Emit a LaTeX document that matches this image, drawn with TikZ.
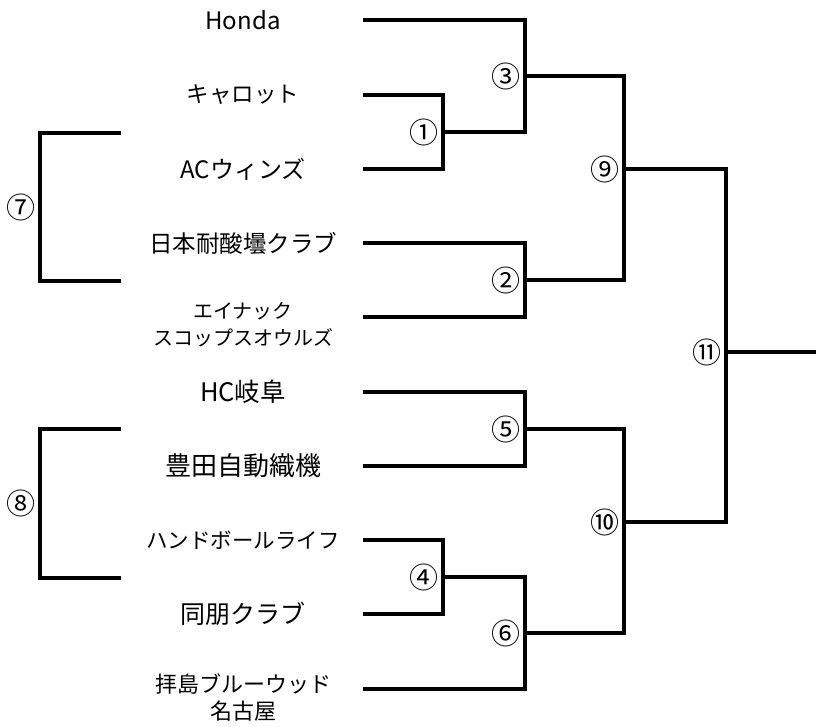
\documentclass[tikz,border=0pt]{standalone}
\usepackage{fontspec}
\setmainfont{Noto Sans CJK JP}
\begin{document}
\begin{tikzpicture}[x=1pt,y=-1pt,
    bline/.style={line width=3.4pt},
    team/.style={font=\fontsize{#1}{27}\selectfont, align=center, inner sep=0pt},
    mnum/.style={font=\fontsize{29}{29}\selectfont, anchor=east, inner sep=0pt, xshift=-4pt}]
  \useasboundingbox (0,0) rectangle (816,727);

  % Team names
  \node[team=24] (t1) at (243,20) {Honda};
  \node[team=22.5] (t2) at (243,95) {キャロット};
  \node[team=24] (t3) at (243,169) {ACウィンズ};
  \node[team=23.5] (t4) at (243,243) {日本耐酸壜クラブ};
  \node[team=20] (t5) at (243,325) {エイナック\\スコップスオウルズ};
  \node[team=25.5] (t6) at (243,392) {HC岐阜};
  \node[team=26] (t7) at (243,466) {豊田自動織機};
  \node[team=21.5] (t8) at (243,540) {ハンドボールライフ};
  \node[team=25] (t9) at (243,614) {同朋クラブ};
  \node[team=22] (t10) at (243,697) {拝島ブルーウッド\\名古屋};

  % Line starts of the teams
  \coordinate (s1) at (363,20);
  \coordinate (s2) at (363,95);
  \coordinate (s3) at (363,169);
  \coordinate (s4) at (363,243);
  \coordinate (s5) at (363,317);
  \coordinate (s6) at (363,392);
  \coordinate (s7) at (363,466);
  \coordinate (s8) at (363,540);
  \coordinate (s9) at (363,614);
  \coordinate (s10) at (363,689);

  % Match points
  \coordinate (j1) at (443,132);
  \coordinate (j2) at (525,280);
  \coordinate (j3) at (525,76);
  \coordinate (j4) at (443,577);
  \coordinate (j5) at (525,429);
  \coordinate (j6) at (525,633);
  \coordinate (j9) at (624,169);
  \coordinate (j10) at (624,522);
  \coordinate (j11) at (726,352);
  \coordinate (fin) at (816,352);

  % Drawing matches 1 to 6
  \draw[bline] (s2) -| (j1) |- (s3);
  \draw[bline] (s4) -| (j2) |- (s5);
  \draw[bline] (s1) -| (j3) |- (j1);
  \draw[bline] (s8) -| (j4) |- (s9);
  \draw[bline] (s6) -| (j5) |- (s7);
  \draw[bline] (j4) -| (j6) |- (s10);

  % Drawing matches 9, 10 and 11
  \draw[bline] (j3) -| (j9) |- (j2);
  \draw[bline] (j5) -| (j10) |- (j6);
  \draw[bline] (j9) -| (j11) |- (j10);
  \draw[bline] (j11) -- (fin);

  % Drawing brackets 7 and 8
  \coordinate (k7a) at (121,133);
  \coordinate (k7b) at (121,281);
  \coordinate (j7) at (40,207);
  \draw[bline] (k7a) -| (j7) |- (k7b);
  \coordinate (k8a) at (121,429);
  \coordinate (k8b) at (121,578);
  \coordinate (j8) at (40,503);
  \draw[bline] (k8a) -| (j8) |- (k8b);

  % Match numbers
  \node[mnum] (n1) at (j1) {①};
  \node[mnum] (n2) at (j2) {②};
  \node[mnum] (n3) at (j3) {③};
  \node[mnum] (n4) at (j4) {④};
  \node[mnum] (n5) at (j5) {⑤};
  \node[mnum] (n6) at (j6) {⑥};
  \node[mnum] (n7) at (j7) {⑦};
  \node[mnum] (n8) at (j8) {⑧};
  \node[mnum] (n9) at (j9) {⑨};
  \node[mnum] (n10) at (j10) {⑩};
  \node[mnum] (n11) at (j11) {⑪};
\end{tikzpicture}
\end{document}
